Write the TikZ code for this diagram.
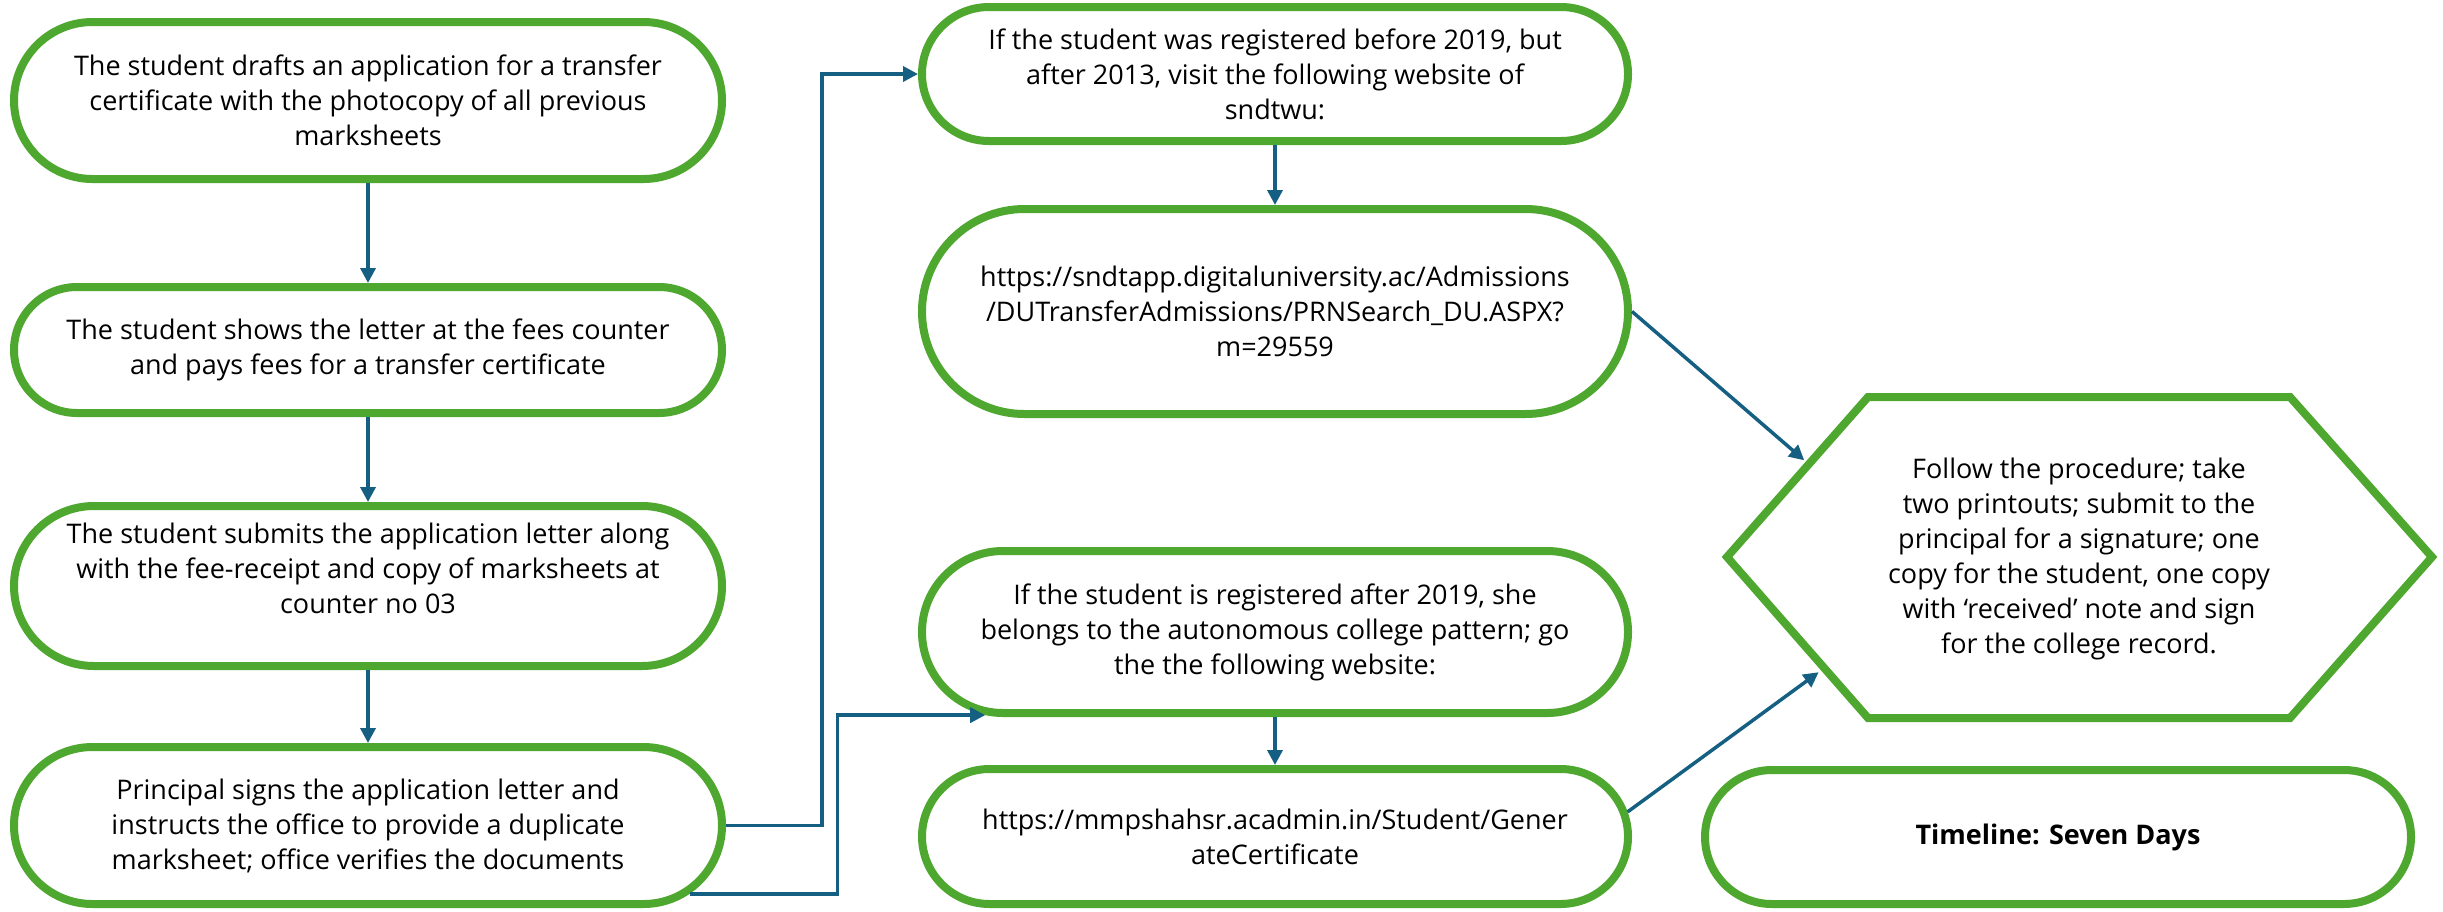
\documentclass[tikz,border=0pt]{standalone}
\usepackage{fontspec}
\setmainfont{Open Sans}
\usetikzlibrary{shapes.misc,arrows.meta,calc}
\definecolor{tgreen}{HTML}{4EA72E}
\definecolor{tblue}{HTML}{156082}
\tikzset{
  stadium/.style={rounded rectangle, draw=tgreen, line width=8pt, fill=white, inner sep=0pt},
  txt/.style={align=center, font=\fontsize{27}{35}\selectfont, inner sep=0pt, text=black},
  conn/.style={draw=tblue, line width=3.5pt, -{Triangle[length=15pt,width=15pt]}},
  hexline/.style={draw=tgreen, line width=8pt, line join=miter}
}
\begin{document}
\begin{tikzpicture}[x=1pt,y=-1pt]
\fill[white] (0,0) rectangle (2443,911);
\useasboundingbox (0,0) rectangle (2443,911);
% left column
\node[stadium, minimum width=708pt, minimum height=157pt] (A) at (368,100.5) {};
\node[txt] (At) at (A) {The student drafts an application for a transfer\\certificate with the photocopy of all previous\\marksheets};
\node[stadium, minimum width=708pt, minimum height=126pt] (B) at (368,350) {};
\node[txt] (Bt) at (B) {The student shows the letter at the fees counter\\and pays fees for a transfer certificate};
\node[stadium, minimum width=708pt, minimum height=160pt] (C) at (368,586) {};
\node[txt] (Ct) at (C) {The student submits the application letter along\\with the fee-receipt and copy of marksheets at\\counter no 03\\\mbox{}};
\node[stadium, minimum width=708pt, minimum height=157pt] (D) at (368,825.5) {};
\node[txt] (Dt) at (D) {Principal signs the application letter and\\instructs the office to provide a duplicate\\marksheet; office verifies the documents};
% middle column
\node[stadium, minimum width=706pt, minimum height=134pt] (E) at (1275,74) {};
\node[txt] (Et) at (E) {If the student was registered before 2019, but\\after 2013, visit the following website of\\sndtwu:};
\node[stadium, minimum width=706pt, minimum height=205pt] (F) at (1275,311.5) {};
\node[txt] (Ft) at (F) {https://sndtapp.digitaluniversity.ac/Admissions\\/DUTransferAdmissions/PRNSearch\_DU.ASPX?\\m=29559};
\node[stadium, minimum width=706pt, minimum height=162pt] (G) at (1275,632) {};
\node[txt] (Gt) at (G) {If the student is registered after 2019, she\\belongs to the autonomous college pattern; go\\the the following website:};
\node[stadium, minimum width=706pt, minimum height=135pt] (H) at (1275,836.5) {};
\node[txt] (Ht) at (H) {https://mmpshahsr.acadmin.in/Student/Gener\\ateCertificate};
% hexagon
\coordinate (hL) at (1727,557);
\coordinate (hTL) at (1868,397);
\coordinate (hTR) at (2290,397);
\coordinate (hR) at (2432,557);
\coordinate (hBR) at (2290,718);
\coordinate (hBL) at (1868,718);
\draw[hexline] (hL) -- (hTL) -- (hTR) -- (hR) -- (hBR) -- (hBL) -- cycle;
\node[txt] (hex) at (2079,559) {Follow the procedure; take\\two printouts; submit to the\\principal for a signature; one\\copy for the student, one copy\\with ‘received’ note and sign\\for the college record.};
\coordinate (hinF) at ($(hL)!0.58!(hTL)$);
\coordinate (hinH) at ($(hL)!0.69!(hBL)$);
% timeline
\node[stadium, minimum width=706pt, minimum height=134pt] (T) at (2058,837) {};
\node[txt, font=\fontsize{27}{35}\selectfont\bfseries] (Tt) at (T) {Timeline: Seven Days};
% connectors
\draw[conn] (A.south) -- (B.north);
\draw[conn] (B.south) -- (C.north);
\draw[conn] (C.south) -- (D.north);
\draw[conn] (E.south) -- (F.north);
\draw[conn] (G.south) -- (H.north);
\draw[conn] (D.east) -| ($(D.east)!0.5!(E.west)$) |- (E.west);
\draw[conn] (D.-12) -| ($(D.-12)!0.5!(G.196)$) |- (G.196);
\draw[conn, shorten >=6pt] (F.east) -- (hinF);
\draw[conn, shorten >=7pt] (H.4) -- (hinH);
\end{tikzpicture}
\end{document}
